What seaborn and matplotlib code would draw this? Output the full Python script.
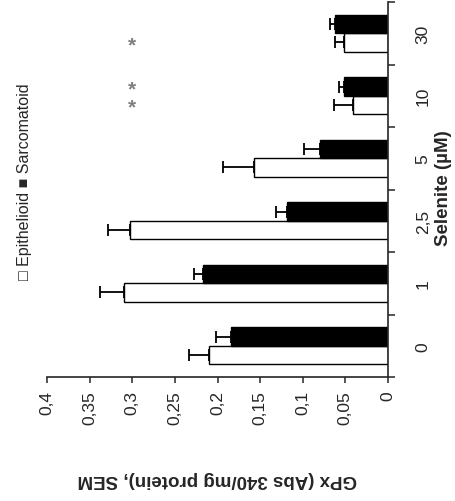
import pandas as pd
import numpy as np
import matplotlib
matplotlib.use("Agg")
import matplotlib.pyplot as plt
from matplotlib.ticker import FixedLocator
import seaborn as sns

# values (GPx activity, Abs 340/mg protein)
concs = ["0", "1", "2,5", "5", "10", "30"]
groups = ["Epithelioid", "Sarcomatoid"]
epi = [0.210, 0.310, 0.303, 0.157, 0.041, 0.052]
epi_sem = [0.024, 0.028, 0.025, 0.037, 0.022, 0.010]
sarc = [0.184, 0.217, 0.118, 0.080, 0.052, 0.062]
sarc_sem = [0.018, 0.011, 0.013, 0.019, 0.005, 0.006]
x_ticks = [0, 0.05, 0.1, 0.15, 0.2, 0.25, 0.3, 0.35, 0.4]
x_ticklabels = ["0", "0,05", "0,1", "0,15", "0,2", "0,25", "0,3", "0,35", "0,4"]
# significance marks: (concentration, group)
stars = [("10", "Sarcomatoid"), ("10", "Epithelioid"), ("30", "Epithelioid")]
star_x = 0.3

sns.set_style("ticks")
plt.rcParams["font.family"] = ["Liberation Sans", "DejaVu Sans"]

df = pd.DataFrame({
    "conc": concs * 2,
    "group": [groups[0]] * len(concs) + [groups[1]] * len(concs),
    "value": epi + sarc,
})

fig = plt.figure(figsize=(4.56, 5.02), dpi=100)
ax = fig.add_axes([47 / 456, 124 / 502, 341 / 456, 375 / 502])

sns.barplot(data=df, x="value", y="conc", hue="group", orient="h",
            order=concs, hue_order=groups,
            palette={"Epithelioid": "white", "Sarcomatoid": "black"},
            edgecolor="black", linewidth=1.0, width=0.59,
            errorbar=None, legend=False, ax=ax)

# one-sided SEM bars
for cont, vals, sems in zip(ax.containers, [epi, sarc], [epi_sem, sarc_sem]):
    centers = [p.get_y() + p.get_height() / 2 for p in cont]
    ax.errorbar(vals, centers, xerr=[np.zeros(len(sems)), sems], fmt="none",
                ecolor="black", elinewidth=1.3, capsize=4.5, capthick=1.3)

# asterisks
off = {"Epithelioid": -0.148, "Sarcomatoid": 0.148}
for c, g in stars:
    ax.text(star_x, concs.index(c) + off[g], "*", color="#808080",
            fontsize=15, fontweight="bold", ha="center", va="center_baseline")

ax.set_xlim(0.4, 0)
ax.set_ylim(-0.5, len(concs) - 0.5)

ax.set_xticks(x_ticks)
ax.set_xticklabels(x_ticklabels, rotation=90, fontsize=12.5)
ax.tick_params(axis="x", length=4.5, width=1.1, pad=5, direction="out")

ax.yaxis.tick_right()
ax.set_yticks(range(len(concs)))
ax.set_yticklabels(concs, rotation=90, fontsize=12.5, va="center")
ax.yaxis.set_minor_locator(FixedLocator(np.arange(-0.5, len(concs), 1)))
ax.tick_params(axis="y", which="major", length=0, pad=20)
ax.tick_params(axis="y", which="minor", length=5, width=1.1, direction="out")

for s in ["top", "left"]:
    ax.spines[s].set_visible(False)
for s in ["bottom", "right"]:
    ax.spines[s].set_linewidth(1.2)

ax.set_xlabel("GPx (Abs 340/mg protein), SEM", rotation=180, fontsize=13.5,
              fontweight="bold", va="center", ha="center")
ax.xaxis.set_label_coords(0.5, -0.271)
ax.yaxis.set_label_position("right")
ax.set_ylabel("Selenite (µM)", rotation=90, fontsize=13.5, fontweight="bold",
              va="center", ha="center")
ax.yaxis.set_label_coords((443 - 47) / 341, 0.505)

fig.text(25 / 456, 1 - 182 / 502, "□ " + groups[0] + " ■ " + groups[1],
         rotation=90, ha="center", va="center", fontsize=11.5)

fig.savefig("out.png", dpi=100)
